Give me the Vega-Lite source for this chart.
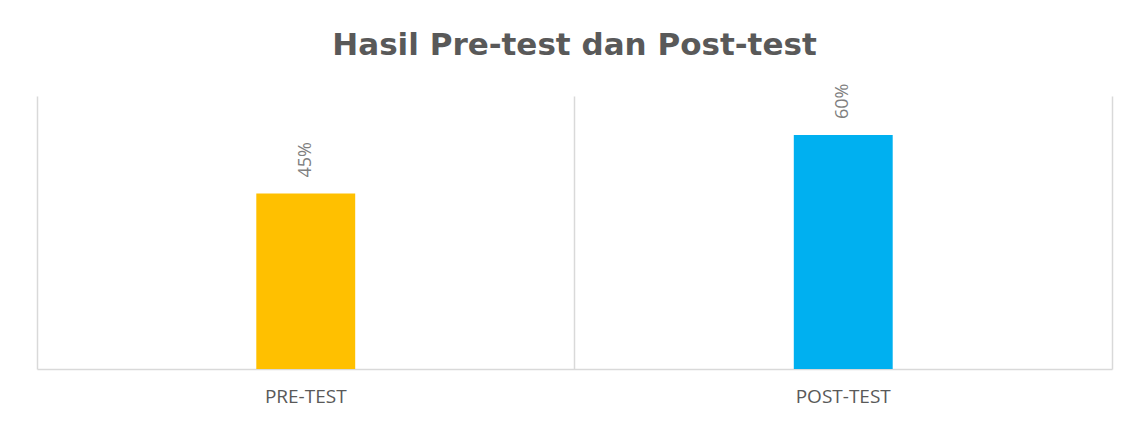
{
  "$schema": "https://vega.github.io/schema/vega-lite/v6.json",
  "width": 1075,
  "height": 273,
  "autosize": {"type": "none"},
  "padding": {"left": 37, "top": 96, "right": 19, "bottom": 52},
  "background": "white",
  "title": {
    "text": "Hasil Pre-test dan Post-test",
    "font": "DejaVu Sans",
    "fontSize": 31,
    "fontWeight": "bold",
    "color": "#595959",
    "anchor": "middle",
    "baseline": "alphabetic",
    "offset": -2
  },
  "data": {
    "values": [
      {"test": "PRE-TEST", "nilai": 0.45, "label": "45%", "grup": "Pre-test"},
      {"test": "POST-TEST", "nilai": 0.6, "label": "60%", "grup": "Post-test"}
    ]
  },
  "resolve": {"axis": {"x": "independent"}},
  "layer": [
    {
      "mark": {"type": "bar", "width": {"band": 0.184}},
      "encoding": {
        "x": {
          "field": "test", "type": "nominal", "sort": null,
          "scale": {"paddingInner": 0, "paddingOuter": 0},
          "axis": {
            "title": null, "labelAngle": 0, "domain": true, "domainColor": "#d9d9d9", "domainWidth": 1.5,
            "ticks": false, "grid": false, "labelFont": "Open Sans", "labelFontSize": 19,
            "labelColor": "#595959", "labelPadding": 18
          }
        },
        "y": {
          "field": "nilai", "type": "quantitative", "scale": {"domain": [0, 0.7]},
          "axis": {"orient": "right", "title": null, "labels": false, "ticks": false, "grid": false, "domain": true, "domainColor": "#d9d9d9", "domainWidth": 1.5}
        },
        "color": {
          "field": "grup", "type": "nominal",
          "scale": {"domain": ["Pre-test", "Post-test"], "range": ["#FFC000", "#00B0F0"]},
          "legend": null
        }
      }
    },
    {
      "mark": {"type": "text", "angle": 270, "align": "left", "baseline": "middle", "dx": 16, "font": "Open Sans", "fontSize": 18, "color": "#7f7f7f"},
      "encoding": {
        "x": {
          "field": "test", "type": "nominal", "sort": null,
          "axis": {"orient": "top", "title": null, "labels": false, "ticks": false, "domain": false, "grid": true, "gridColor": "#d9d9d9", "gridWidth": 1.5, "bandPosition": 0}
        },
        "y": {"field": "nilai", "type": "quantitative"},
        "text": {"field": "label"}
      }
    }
  ],
  "config": {"view": {"stroke": null}}
}
